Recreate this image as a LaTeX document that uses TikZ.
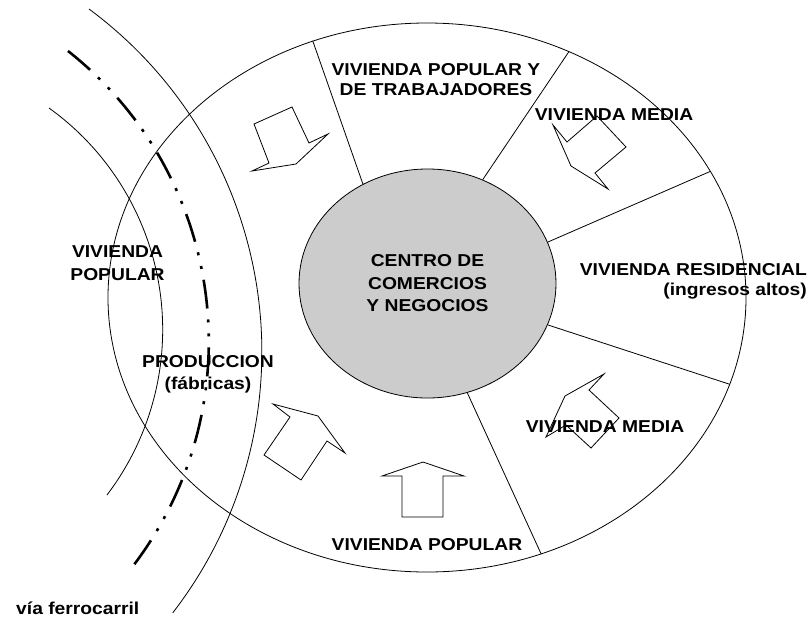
\documentclass[tikz,border=0pt]{standalone}
\usepackage{fontspec}
\setmainfont{Liberation Sans}[FakeStretch=1.12]
\usetikzlibrary{shapes.geometric}

\begin{document}
\begin{tikzpicture}
	[x=1pt,y=-1pt,
	 rotulo/.style={font=\bfseries\fontsize{17.2}{21}\selectfont,align=center,inner sep=0pt},
	 zona/.style={ellipse,draw,line width=0.8pt,inner sep=0pt},
	 flecha/.style={draw,line width=0.8pt},
	 via/.style={line width=2.6pt,dash pattern=on 29pt off 11pt on 3pt off 11pt on 3pt off 11pt}]
    \useasboundingbox (0,0) rectangle (812,619);
    \node[zona,minimum width=638pt,minimum height=549pt] (ciudad) at (427,297.5) {};
    \node[zona,fill=black!20,minimum width=257pt,minimum height=229pt,
          font=\bfseries\fontsize{17.2}{22.5}\selectfont,align=center] (centro) at (427.5,283.5)
          {CENTRO DE\\COMERCIOS\\Y NEGOCIOS};
    % sectores
    \draw [line width=0.8pt] (centro.123.6) -- (ciudad.114.8);
    \draw [line width=0.8pt] (centro.62.5) -- (ciudad.60.9);
    \draw [line width=0.8pt] (centro.19.3) -- (ciudad.24.2);
    \draw [line width=0.8pt] (centro.-19) -- (ciudad.-16.9);
    \draw [line width=0.8pt] (centro.-70.9) -- (ciudad.-66.7);
    % arcos de la izquierda
    \draw [line width=0.8pt] (89,9) arc[start angle=-53.5,end angle=37.7,radius=426.6];
    \draw [line width=0.8pt] (49,108) arc[start angle=-54.3,end angle=37.3,radius=273];
    \draw [via] (68,51) arc[start angle=-51.7,end angle=37.5,radius=370.3];
    % flechas
    \draw [flecha] (254,124) -- (292,107) -- (309,143) -- (328,134) -- (296,164) -- (252,171) -- (269,163) -- cycle;
    \draw [flecha] (553,125) -- (567,142) -- (597,116) -- (626,147) -- (595,173) -- (608,189) -- (571,166) -- cycle;
    \draw [flecha] (273,404) -- (318,416) -- (345,453) -- (327,441) -- (301,480) -- (264,455) -- (290,417) -- cycle;
    \draw [flecha] (423,462) -- (464,476) -- (443,476) -- (443,517) -- (402,517) -- (402,476) -- (382,476) -- cycle;
    \draw [flecha] (604,374) -- (589,390) -- (619,418) -- (591,448) -- (566,425) -- (546,437) -- (565,396) -- cycle;
    % rotulos
    \node[rotulo,font=\bfseries\fontsize{17.2}{20}\selectfont] (poptrab) at (436,80) {VIVIENDA POPULAR Y\\DE TRABAJADORES};
    \node[rotulo] (media1) at (614,115) {VIVIENDA MEDIA};
    \node[rotulo,anchor=east,align=right,font=\bfseries\fontsize{17.2}{20}\selectfont] (resid) at (807,281) {VIVIENDA RESIDENCIAL\\(ingresos altos)};
    \node[rotulo,font=\bfseries\fontsize{17.2}{23}\selectfont] (popizq) at (117.5,263.5) {VIVIENDA\\POPULAR};
    \node[rotulo,font=\bfseries\fontsize{17.2}{22}\selectfont] (produccion) at (208,374) {PRODUCCION\\(fábricas)};
    \node[rotulo] (media2) at (605,427) {VIVIENDA MEDIA};
    \node[rotulo] (popabajo) at (427,545) {VIVIENDA POPULAR};
    \node[rotulo,anchor=west] (ferro) at (16,608) {vía ferrocarril};
\end{tikzpicture}
\end{document}
